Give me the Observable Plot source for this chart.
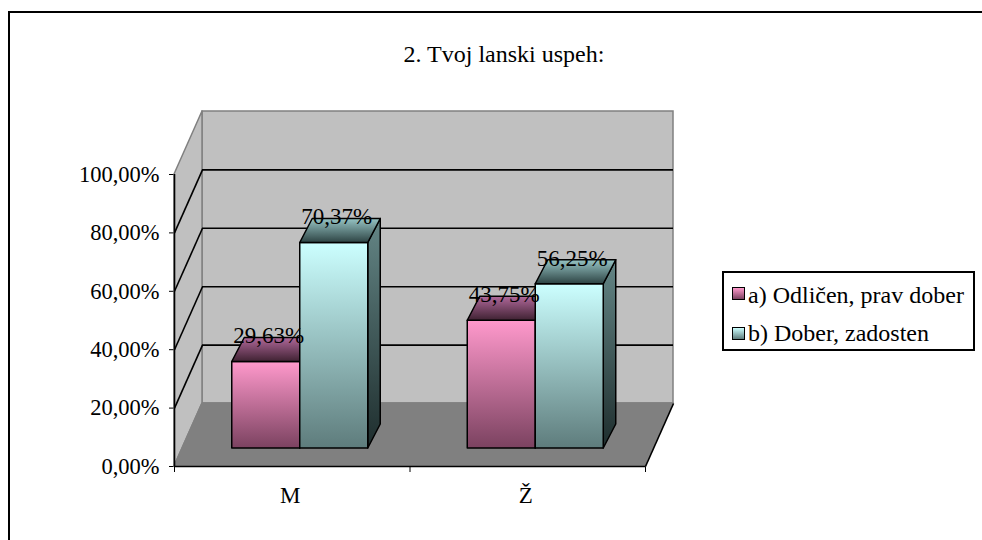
<!DOCTYPE html>
<html>
<head>
<meta charset="utf-8">
<script src="https://cdn.jsdelivr.net/npm/d3@7"></script>
<script src="https://cdn.jsdelivr.net/npm/@observablehq/plot@0.6"></script>
<style>
  html, body { margin: 0; padding: 0; background: #fff; overflow: hidden; }
  #chart { position: relative; width: 982px; height: 540px; overflow: hidden;
           font-family: "Liberation Serif", "Times New Roman", serif; color: #000; }
  #frame { position: absolute; left: 8px; top: 11px; width: 1000px; height: 600px;
           border-left: 2px solid #000; border-top: 2px solid #000; }
  #plot { position: absolute; left: 0; top: 0; }
  #title { position: absolute; left: 0; width: 1008px; top: 41.6px; text-align: center;
           font-size: 24px; line-height: 24px; white-space: nowrap; }
  #legend { position: absolute; left: 722px; top: 271px; width: 253px; height: 80px;
            box-sizing: border-box; border: 2px solid #000; background: #fff; }
  .sw { position: absolute; left: 8px; width: 13px; height: 13px; box-sizing: border-box;
        border: 1.5px solid #000; }
  .lt { position: absolute; left: 24px; font-size: 24px; line-height: 24px; white-space: nowrap; }
</style>
</head>
<body>
<svg width="0" height="0" style="position:absolute">
  <defs>
    <linearGradient id="pinkFront" x1="0" y1="0" x2="0" y2="1">
      <stop offset="0" stop-color="#ff99cc"/><stop offset="1" stop-color="#7b4260"/>
    </linearGradient>
    <linearGradient id="pinkTop" x1="0" y1="0" x2="0" y2="1">
      <stop offset="0" stop-color="#b0689a"/><stop offset="1" stop-color="#3f2232"/>
    </linearGradient>
    <linearGradient id="pinkSide" x1="0" y1="0" x2="0" y2="1">
      <stop offset="0" stop-color="#8a4a6a"/><stop offset="1" stop-color="#301824"/>
    </linearGradient>
    <linearGradient id="cyanFront" x1="0" y1="0" x2="0" y2="1">
      <stop offset="0" stop-color="#ccffff"/><stop offset="1" stop-color="#5e7c7c"/>
    </linearGradient>
    <linearGradient id="cyanTop" x1="0" y1="0" x2="0" y2="1">
      <stop offset="0" stop-color="#96c4c4"/><stop offset="1" stop-color="#2d4343"/>
    </linearGradient>
    <linearGradient id="cyanSide" x1="0" y1="0" x2="0" y2="1">
      <stop offset="0" stop-color="#648686"/><stop offset="1" stop-color="#1e2d2d"/>
    </linearGradient>
  </defs>
</svg>
<div id="chart">
  <div id="frame"></div>
  <div id="plot"></div>
  <div id="title"></div>
  <div id="legend"></div>
</div>
<script>
// Chart data
const titleText = "2. Tvoj lanski uspeh:";
const categories = ["M", "Ž"];
const seriesNames = ["a) Odličen, prav dober", "b) Dober, zadosten"];
const valuesA = [29.63, 43.75];   // a) Odličen, prav dober (%)
const valuesB = [70.37, 56.25];   // b) Dober, zadosten (%)
const yTicks = [0, 20, 40, 60, 80, 100];

// Layout
const W = 982, H = 540;
const ML = 174, MR = 337, MT = 174, MB = 74;
const xDomain = [0, categories.length];
const yDomain = [0, 100];
const kx = (xDomain[1] - xDomain[0]) / (W - ML - MR); // x units per pixel
const ky = (yDomain[1] - yDomain[0]) / (H - MT - MB); // y units per pixel

// Oblique depth of the walls and of the bars (pixels)
const WALL_DX = 28, WALL_DY = -63;
const WX = WALL_DX * kx, WY = -WALL_DY * ky;
const BAR_DX = 8, BAR_DY = -18;            // bar front plane offset
const BX = 12.5 * kx, BY = 24 * ky;        // bar depth
const BW = 68 * kx;                        // bar width

const fmt = v => v.toFixed(2).replace(".", ",") + "%";

const series = [
  {name: seriesNames[0], values: valuesA, front: "url(#pinkFront)", top: "url(#pinkTop)", side: "url(#pinkSide)", css: "linear-gradient(#ff99cc, #7b4260)"},
  {name: seriesNames[1], values: valuesB, front: "url(#cyanFront)", top: "url(#cyanTop)", side: "url(#cyanSide)", css: "linear-gradient(#ccffff, #5e7c7c)"}
];

const bars = series.map((s, si) => categories.map((c, i) => {
  const x1 = i + 0.5 + (si - 1) * BW;
  return {cat: c, key: c + si, value: s.values[i], x1, x2: x1 + BW};
}));

// Side wall, floor
const sideWall = [{x: 0, y1: 0, y2: 100}, {x: WX, y1: WY, y2: 100 + WY}];
const floor = [{y: 0, x1: 0, x2: xDomain[1]}, {y: WY, x1: WX, x2: xDomain[1] + WX}];
const innerTicks = yTicks.filter(t => t > 0 && t < 100);

function barMarks(s, data) {
  const tops = data.flatMap(d => [
    {key: d.key, y: d.value, x1: d.x1, x2: d.x2},
    {key: d.key, y: d.value + BY, x1: d.x1 + BX, x2: d.x2 + BX}
  ]);
  const sides = data.flatMap(d => [
    {key: d.key, x: d.x2, y1: 0, y2: d.value},
    {key: d.key, x: d.x2 + BX, y1: BY, y2: d.value + BY}
  ]);
  const st = {stroke: "#000", strokeWidth: 1.5, strokeLinejoin: "round", dx: BAR_DX, dy: BAR_DY};
  return [
    Plot.areaY(sides, {x: "x", y1: "y1", y2: "y2", z: "key", fill: s.side, ...st}),
    Plot.rect(data, {x1: "x1", x2: "x2", y1: 0, y2: "value", fill: s.front, ...st}),
    Plot.areaX(tops, {y: "y", x1: "x1", x2: "x2", z: "key", fill: s.top, ...st})
  ];
}

const plot = Plot.plot({
  width: W, height: H,
  marginLeft: ML, marginRight: MR, marginTop: MT, marginBottom: MB,
  style: {fontFamily: "Liberation Serif, Times New Roman, serif", fontSize: "22.5px", color: "#000", background: "transparent", overflow: "visible"},
  x: {type: "linear", domain: xDomain, ticks: categories.length, tickSize: 6, tickFormat: () => "", label: null},
  y: {type: "linear", domain: yDomain, ticks: yTicks.length - 1, tickSize: 5, tickPadding: 10, tickFormat: v => fmt(v), label: null},
  marks: [
    // back wall
    Plot.rect([{}], {x1: 0, x2: xDomain[1], y1: 0, y2: 100, dx: WALL_DX, dy: WALL_DY, fill: "#c0c0c0", stroke: "#808080", strokeWidth: 1.5}),
    // side wall
    Plot.areaY(sideWall, {x: "x", y1: "y1", y2: "y2", fill: "#c0c0c0", stroke: "#808080", strokeWidth: 1.5}),
    // floor
    Plot.areaX(floor, {y: "y", x1: "x1", x2: "x2", fill: "#808080", stroke: "#808080", strokeWidth: 1.5}),
    // gridlines on back wall and side wall
    Plot.ruleY(innerTicks, {x1: 0, x2: xDomain[1], dx: WALL_DX, dy: WALL_DY, stroke: "#000", strokeWidth: 1.6}),
    Plot.link(innerTicks, {x1: 0, y1: d => d, x2: WX, y2: d => d + WY, stroke: "#000", strokeWidth: 1.6}),
    // floor right edge and front axes
    Plot.link([{}], {x1: xDomain[1], y1: 0, x2: xDomain[1] + WX, y2: WY, stroke: "#000", strokeWidth: 1.6}),
    Plot.ruleX([0], {y1: 0, y2: 100, stroke: "#000", strokeWidth: 1.6}),
    Plot.ruleY([0], {x1: 0, x2: xDomain[1], stroke: "#000", strokeWidth: 1.6}),
    // bars
    ...series.flatMap((s, si) => barMarks(s, bars[si])),
    // value labels
    ...bars.map(data => Plot.text(data, {
      x: d => (d.x1 + d.x2) / 2, y: "value", text: d => fmt(d.value),
      dx: BAR_DX + 2.5, dy: -44, fontSize: 23, fill: "#000"
    })),
    // category labels
    Plot.text(categories, {x: (d, i) => i + 0.5, y: 0, text: d => d, dx: -2, dy: 29, fontSize: 23, fill: "#000"})
  ]
});
document.getElementById("plot").appendChild(plot);

document.getElementById("title").textContent = titleText;

const legend = document.getElementById("legend");
series.forEach((s, i) => {
  const sw = document.createElement("div");
  sw.className = "sw";
  sw.style.top = (14 + i * 40) + "px";
  sw.style.background = s.css;
  const t = document.createElement("div");
  t.className = "lt";
  t.style.top = (10 + i * 38.4) + "px";
  t.textContent = s.name;
  legend.appendChild(sw);
  legend.appendChild(t);
});
</script>
</body>
</html>
